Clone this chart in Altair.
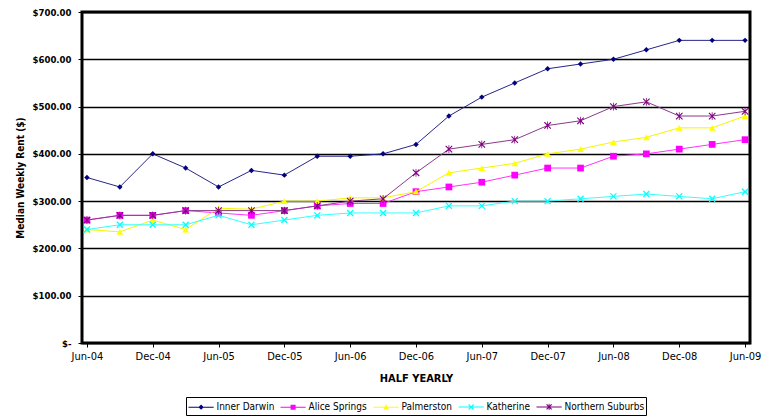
import altair as alt
import pandas as pd

quarters = ["Jun-04", "Sep-04", "Dec-04", "Mar-05", "Jun-05", "Sep-05", "Dec-05",
            "Mar-06", "Jun-06", "Sep-06", "Dec-06", "Mar-07", "Jun-07", "Sep-07",
            "Dec-07", "Mar-08", "Jun-08", "Sep-08", "Dec-08", "Mar-09", "Jun-09"]
tick_labels = ["Jun-04", "Dec-04", "Jun-05", "Dec-05", "Jun-06", "Dec-06",
               "Jun-07", "Dec-07", "Jun-08", "Dec-08", "Jun-09"]
series_names = ["Inner Darwin", "Alice Springs", "Palmerston", "Katherine", "Northern Suburbs"]

inner_darwin = [350, 330, 400, 370, 330, 365, 355, 395, 395, 400, 420, 480, 520, 550, 580, 590, 600, 620, 640, 640, 640]
alice_springs = [260, 270, 270, 280, 275, 270, 280, 290, 295, 295, 320, 330, 340, 355, 370, 370, 395, 400, 410, 420, 430]
palmerston = [240, 235, 260, 240, 285, 283, 300, 300, 307, 307, 320, 360, 370, 380, 400, 410, 425, 435, 455, 455, 480]
katherine = [240, 250, 250, 250, 270, 250, 260, 270, 275, 275, 275, 290, 290, 300, 300, 305, 310, 315, 310, 305, 320]
northern_suburbs = [260, 270, 270, 280, 280, 280, 280, 290, 300, 305, 360, 410, 420, 430, 460, 470, 500, 510, 480, 480, 490]

y_ticks = [0, 100, 200, 300, 400, 500, 600, 700]

all_values = [inner_darwin, alice_springs, palmerston, katherine, northern_suburbs]
rows = []
for name, vals in zip(series_names, all_values):
    for q, v in zip(quarters, vals):
        rows.append({"quarter": q, "rent": v, "series": name})
df = pd.DataFrame(rows)

FONT = "'Liberation Sans Narrow', 'Arial Narrow', 'DejaVu Sans Condensed', sans-serif"

marker_colors = ["#000080", "#FF00FF", "#FFFF00", "#00FFFF", "#800080"]
line_colors = ["#26268C", "#FF33FF", "#F5F500", "#33FFFF", "#8B3A8B"]


def x_path(a, e, cx=0.0):
    pts1 = [(-a + e, -a - e), (a + e, a - e), (a - e, a + e), (-a - e, -a + e)]
    pts2 = [(a + e, -a + e), (-a + e, a + e), (-a - e, a - e), (a - e, -a - e)]
    out = []
    for pts in (pts1, pts2):
        s = "M" + "L".join(f"{x + cx:.3f},{y:.3f}" for x, y in pts) + "Z"
        out.append(s)
    return " ".join(out)


def vbar(h, e, cx=0.0):
    return f"M{cx - e:.3f},{-h}H{cx + e:.3f}V{h}H{cx - e:.3f}Z"


# legend symbol: a line with the marker in its middle (units of half the symbol size)
L0, L1 = -1.0, 2.6
C = (L0 + L1) / 2
LINE = f"M{L0},-0.07H{L1}V0.07H{L0}Z "
legend_paths = [
    LINE + f"M{C},-0.38L{C + 0.38},0L{C},0.38L{C - 0.38},0Z",
    LINE + f"M{C - 0.36},-0.36H{C + 0.36}V0.36H{C - 0.36}Z",
    LINE + f"M{C},-0.42L{C + 0.42},0.34H{C - 0.42}Z",
    LINE + x_path(0.36, 0.06, C),
    LINE + x_path(0.36, 0.06, C) + " " + vbar(0.45, 0.06, C),
]
plot_shapes = ["diamond", "square", "triangle-up", x_path(1, 0.15),
               x_path(1, 0.12) + " " + vbar(1.2, 0.12)]
plot_sizes = [30, 45, 45, 36, 42]

NB = "\u00a0" * 7

x_enc = alt.X("quarter:O", sort=quarters,
              scale=alt.Scale(padding=0.15),
              axis=alt.Axis(values=tick_labels, labelAngle=0, title="HALF YEARLY",
                            tickSize=4, labelPadding=3, labelFontSize=11,
                            titlePadding=11, titleFontWeight="bold", titleFontSize=11))
y_enc = alt.Y("rent:Q", scale=alt.Scale(domain=[0, 700], nice=False),
              axis=alt.Axis(values=y_ticks, title="Median Weekly Rent ($)",
                            labelExpr=f"datum.value == 0 ? '$-{NB}' : '$' + format(datum.value, '.2f')",
                            grid=True, gridColor="black", gridWidth=1.3,
                            tickSize=4, labelPadding=7, labelFontWeight="bold",
                            labelFontSize=9.5,
                            titleFontWeight="bold", titleFontSize=10, titlePadding=7))

base = alt.Chart(df).encode(x=x_enc, y=y_enc)

layers = []
for name, lc, mc, shp, sz in zip(series_names, line_colors, marker_colors, plot_shapes, plot_sizes):
    sub = base.transform_filter(alt.datum.series == name)
    layers.append(sub.mark_line(color=lc, strokeWidth=1))
    layers.append(sub.mark_point(shape=shp, filled=True, size=sz, color=mc, opacity=1))

leg = alt.Legend(title=None, orient="none", legendX=104, legendY=385,
                 direction="horizontal", columns=5, strokeColor="black",
                 padding=1.5, columnPadding=3, symbolSize=196, symbolOpacity=1,
                 labelFont=FONT, labelFontSize=10, labelColor="black",
                 labelOffset=13, labelLimit=300)

legend_layer = base.mark_point(filled=True, opacity=0).encode(
    color=alt.Color("series:N", sort=series_names,
                    scale=alt.Scale(domain=series_names, range=marker_colors), legend=leg),
    shape=alt.Shape("series:N", sort=series_names,
                    scale=alt.Scale(domain=series_names, range=legend_paths), legend=leg),
)

chart = alt.layer(*layers, legend_layer).properties(
    width=668, height=331,
    padding={"left": 74, "top": 4, "right": 12, "bottom": 74},
    autosize=alt.AutoSizeParams(type="none"),
    background="white",
).configure_view(
    stroke="black", strokeWidth=3
).configure_axis(
    labelFont=FONT, titleFont=FONT, labelFontSize=10, labelColor="black",
    titleColor="black", tickColor="black", domain=False
)

chart.save("out.html", embed_options={"renderer": "svg", "actions": False})
